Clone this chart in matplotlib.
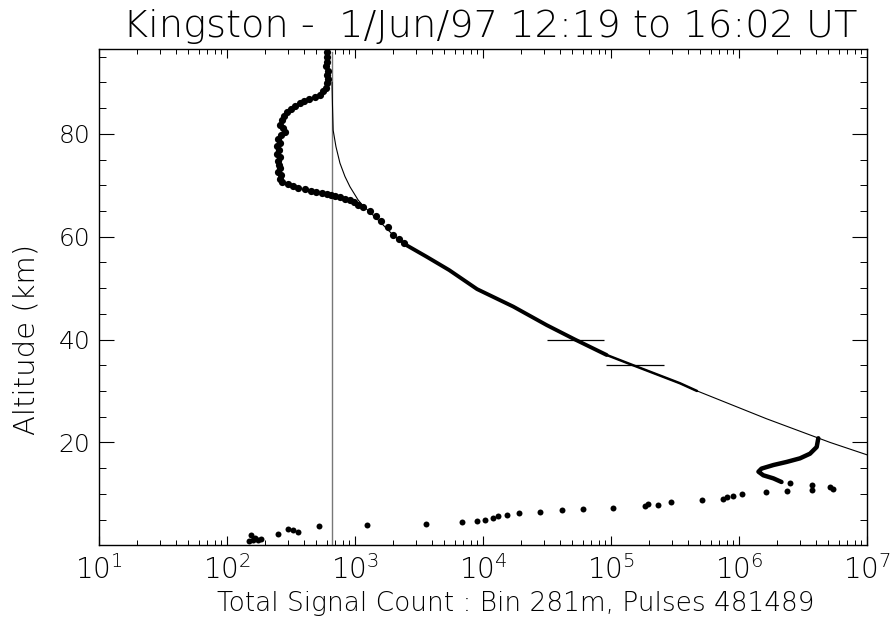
import matplotlib
matplotlib.use("Agg")
import matplotlib.pyplot as plt
from matplotlib.ticker import MultipleLocator, LogLocator, NullFormatter

# background count level (vertical line)
bg_count = 660
bg_alt = [0.0, 96.0]

# model (fitted) profile
model_cnt = [662, 668, 676, 711, 764, 836, 915, 1061, 1150, 1567, 1990, 2385,
             3630, 5450, 9000, 17270, 31500, 52400, 92500, 149000, 346000,
             440000, 1.64e6, 5.14e6, 9.96e6]
model_alt = [90.0, 85.5, 80.7, 77.5, 74.3, 71.7, 69.7, 67.1, 66.1, 62.9, 60.3,
             58.7, 56.1, 53.5, 49.8, 46.4, 42.8, 40.0, 37.0, 35.0, 31.5,
             30.3, 24.6, 20.0, 17.6]

# measured points, upper part (dense)
top_cnt = [605, 600, 610, 595, 615, 605, 620, 600, 590, 560, 530, 490, 440, 400,
           370, 340, 315, 295, 280, 270, 262, 275, 285, 265, 252, 258, 245, 255,
           248, 260, 250, 255, 262, 250, 265, 258, 270, 300, 330, 360, 410, 450,
           500, 550, 600, 650, 700, 770, 840, 915, 990, 1060, 1150, 1300, 1450,
           1600, 1800, 2000, 2200, 2400]
top_alt = [96.0, 95.0, 94.0, 93.2, 92.3, 91.5, 90.6, 89.8, 89.0, 88.4, 87.6, 87.1,
           86.7, 86.4, 86.0, 85.5, 84.9, 84.2, 83.4, 82.6, 81.8, 81.1, 80.4, 79.7,
           79.0, 78.3, 77.6, 76.9, 76.1, 75.4, 74.7, 74.0, 73.3, 72.6, 71.9, 71.2,
           70.6, 70.2, 69.9, 69.5, 69.2, 68.9, 68.7, 68.5, 68.3, 68.1, 67.9, 67.7,
           67.4, 67.1, 66.7, 66.2, 65.7, 65.0, 64.0, 63.0, 61.8, 60.3, 59.5, 58.7]

# measured points overlapping the model (drawn as a thick trace)
mid_cnt = [2385, 3630, 5450, 9000, 17270, 31500, 52400, 92500]
mid_alt = [58.7, 56.1, 53.5, 49.8, 46.4, 42.8, 40.0, 37.0]
mid2_cnt = [92500, 149000, 346000, 470000]
mid2_alt = [37.0, 35.0, 31.5, 30.0]

# low-altitude dense S shaped part
s_cnt = [4.17e6, 4.05e6, 3.59e6, 3.0e6, 2.36e6, 1.86e6, 1.5e6, 1.42e6, 1.55e6,
         1.86e6, 2.15e6]
s_alt = [20.8, 19.1, 17.8, 16.9, 16.2, 15.6, 14.9, 14.3, 13.6, 13.0, 12.3]

# sparse points near the ground
low_cnt = [150, 160, 175, 165, 155, 185, 252, 302, 330, 362, 520, 1233, 3600,
           6900, 8930, 10400, 12000, 13200, 15300, 19200, 27700, 41200, 60800,
           104000, 184000, 196000, 232000, 293000, 514000, 750000, 800000,
           900000, 1.05e6, 1.64e6, 2.36e6, 2.5e6, 3.7e6, 3.7e6, 5.1e6, 5.46e6]
low_alt = [0.8, 1.0, 1.1, 1.5, 1.9, 1.2, 2.2, 3.2, 2.9, 2.6, 3.7, 3.9, 4.2,
           4.5, 4.7, 5.0, 5.3, 5.6, 5.9, 6.2, 6.5, 6.8, 7.0,
           7.3, 7.6, 8.1, 7.9, 8.5, 8.8, 9.0, 9.4,
           9.6, 10.0, 10.3, 10.6, 12.1, 11.7, 10.8, 11.3, 11.0]

# horizontal error bars
err_alt = [40.0, 35.0]
err_lo = [31500, 91400]
err_hi = [88100, 259000]

xticks = [1e1, 1e2, 1e3, 1e4, 1e5, 1e6, 1e7]
xticklabels = [r'$10^{%d}$' % i for i in range(1, 8)]
yticks = [20, 40, 60, 80]

plt.rcParams['font.family'] = ['DejaVu Sans']
plt.rcParams['font.weight'] = 'light'
plt.rcParams['mathtext.fontset'] = 'custom'
plt.rcParams['mathtext.rm'] = 'DejaVu Sans:light'
plt.rcParams['mathtext.it'] = 'DejaVu Sans:light'
plt.rcParams['mathtext.default'] = 'rm'

fig = plt.figure(figsize=(8.91, 6.26), dpi=100)
ax = fig.add_axes([0.111, 0.129, 0.862, 0.792])

ax.plot([bg_count, bg_count], bg_alt, color='#777777', lw=1.0)
ax.plot(model_cnt, model_alt, color='black', lw=0.8)
ax.plot(mid_cnt, mid_alt, color='black', lw=2.8, solid_capstyle='round')
ax.plot(mid2_cnt, mid2_alt, color='black', lw=1.8, solid_capstyle='round')
ax.plot(s_cnt, s_alt, color='black', lw=3.2, solid_capstyle='round',
        solid_joinstyle='round')
ax.plot(top_cnt, top_alt, 'o', color='black', ms=5.2, mew=0)
ax.plot(low_cnt, low_alt, 'o', color='black', ms=4.3, mew=0)
ax.hlines(err_alt, err_lo, err_hi, color='black', lw=0.9)

ax.set_xscale('log')
ax.set_xlim(1e1, 1e7)
ax.set_ylim(0, 96.4)

ax.set_xticks(xticks)
ax.set_xticklabels(xticklabels)
ax.xaxis.set_minor_locator(LogLocator(base=10, subs=range(2, 10), numticks=20))
ax.xaxis.set_minor_formatter(NullFormatter())
ax.set_yticks(yticks)
ax.yaxis.set_minor_locator(MultipleLocator(5))

ax.tick_params(axis='both', which='both', direction='in', top=True, right=True,
               colors='black')
ax.tick_params(axis='x', which='major', length=6.5, width=0.8, pad=7,
               labelsize=20)
ax.tick_params(axis='x', which='minor', length=3.5, width=0.7)
ax.tick_params(axis='y', which='major', length=11, width=0.8, pad=6,
               labelsize=18)
ax.tick_params(axis='y', which='minor', length=5, width=0.7)
for sp in ax.spines.values():
    sp.set_linewidth(1.0)
    sp.set_color('black')

ax.set_title('Kingston -  1/Jun/97 12:19 to 16:02 UT', fontsize=27.5,
             fontweight='light', pad=9, x=0.509)
ax.set_xlabel('Total Signal Count : Bin 281m, Pulses 481489', fontsize=19,
              fontweight='light')
ax.set_ylabel('Altitude (km)', fontsize=21, fontweight='light')
ax.xaxis.set_label_coords(0.543, -0.092, transform=ax.transAxes)
ax.xaxis.label.set_va('top')
ax.yaxis.set_label_coords(-0.076, 0.415, transform=ax.transAxes)

fig.savefig('out.png', dpi=100)
